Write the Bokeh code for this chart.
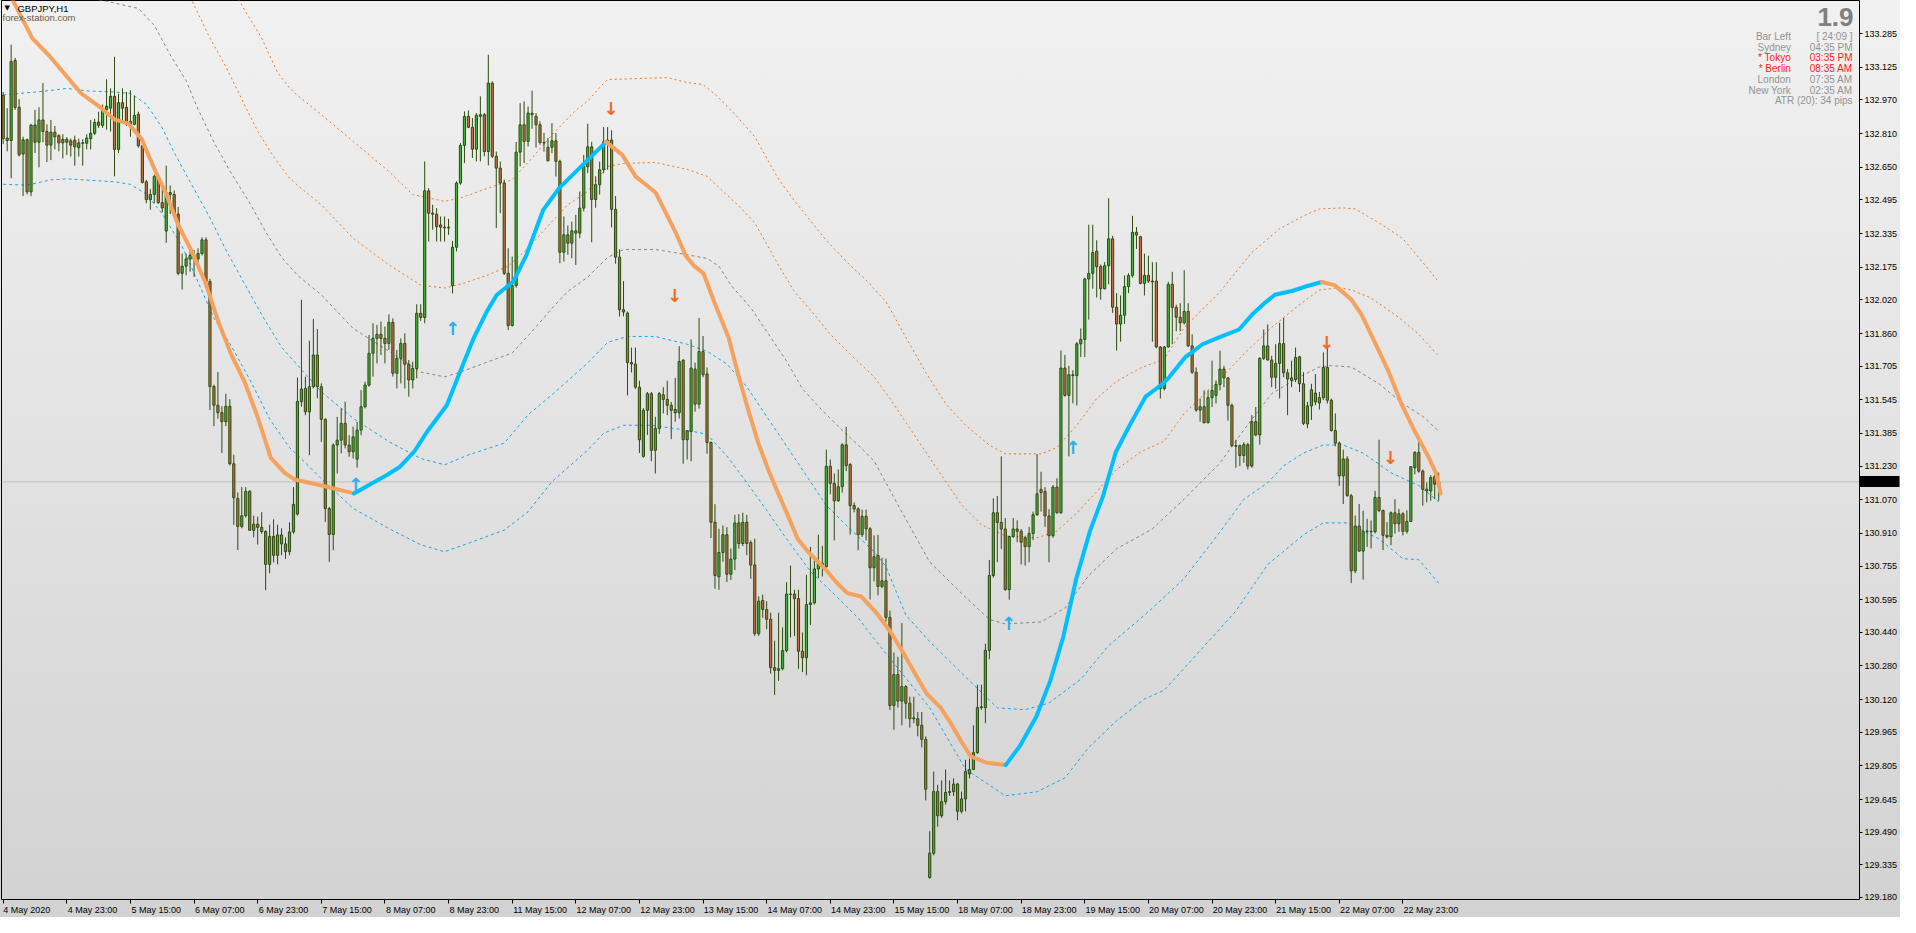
from bokeh.plotting import figure
from bokeh.models import Range1d, FixedTicker, NumeralTickFormatter, Span
from bokeh.core.properties import value
from bokeh.embed import file_html
from bokeh.resources import INLINE
import numpy as np

# ---------------- data (GBPJPY H1, bar index 0 = 4 May 07:00) ----------------
opens = [
 132.991,132.789,132.777,133.158,132.935,132.713,132.781,132.533,132.851,132.769,
 132.875,132.820,132.755,132.817,132.800,132.783,132.769,132.776,132.779,132.743,
 132.766,132.764,132.786,132.812,132.865,132.849,132.923,132.931,132.987,132.735,
 132.957,132.935,132.868,132.854,132.902,132.752,132.581,132.496,132.521,132.607,
 132.482,132.347,132.530,132.521,132.428,132.146,132.180,132.214,132.231,132.214,
 132.240,132.305,132.107,131.608,131.519,131.484,131.441,131.514,131.241,131.076,
 130.943,130.994,131.110,130.925,130.954,130.939,130.919,130.763,130.896,130.806,
 130.903,130.860,130.823,130.917,131.002,131.536,131.599,131.488,131.607,131.758,
 131.607,131.452,131.028,130.905,131.330,131.353,131.433,131.330,131.298,131.263,
 131.401,131.512,131.615,131.766,131.837,131.856,131.837,131.813,131.913,131.671,
 131.742,131.813,131.714,131.639,131.694,131.956,131.936,132.538,132.432,132.427,
 132.376,132.365,132.362,132.088,132.270,132.575,132.754,132.892,132.840,132.736,
 132.892,132.900,132.725,133.050,132.702,132.646,132.575,132.146,131.898,132.088,
 132.722,132.852,132.773,132.900,132.892,132.852,132.768,132.745,132.745,132.776,
 132.678,132.246,132.329,132.289,132.348,132.337,132.456,132.653,132.747,132.497,
 132.567,132.638,132.771,132.779,132.450,132.223,131.973,131.957,131.722,131.715,
 131.605,131.276,131.495,131.574,131.305,131.409,131.569,131.547,131.519,131.499,
 131.483,131.733,131.355,131.394,131.691,131.524,131.774,131.668,131.342,130.963,
 130.704,130.819,130.904,130.716,130.788,130.960,130.862,130.963,130.866,130.760,
 130.434,130.591,130.548,130.502,130.272,130.259,130.267,130.353,130.622,130.622,
 130.600,130.350,130.319,130.572,130.580,130.741,130.768,130.752,131.229,131.148,
 131.065,131.132,131.331,131.237,131.042,131.026,130.904,130.991,130.932,130.747,
 130.805,130.658,130.685,130.511,130.092,130.239,130.113,130.182,130.103,130.029,
 130.029,129.998,129.931,129.275,129.390,129.683,129.568,129.635,129.679,129.683,
 129.719,129.589,129.648,129.767,129.788,129.868,130.082,130.082,130.354,130.710,
 131.008,130.962,130.931,130.643,130.895,130.931,130.920,130.889,130.847,130.910,
 130.999,131.119,131.109,130.993,130.899,131.130,131.008,131.696,131.566,131.664,
 131.660,131.811,131.832,132.119,132.146,132.251,132.178,132.073,132.182,132.310,
 131.985,131.905,131.947,132.083,132.136,132.341,132.320,132.098,132.136,132.109,
 132.109,131.796,131.598,131.796,132.094,131.984,131.937,131.911,131.965,131.801,
 131.676,131.496,131.512,131.436,131.555,131.566,131.618,131.691,131.649,131.519,
 131.327,131.327,131.280,131.332,131.230,131.441,131.378,131.742,131.801,131.734,
 131.652,131.718,131.812,131.673,131.649,131.641,131.749,131.621,131.430,131.516,
 131.577,131.530,131.555,131.699,131.543,131.399,131.339,131.183,131.264,131.089,
 130.732,130.945,130.826,130.920,130.920,130.918,131.081,131.019,130.901,130.894,
 131.008,130.956,131.003,130.920,130.967,131.222,131.295,131.206,131.120,131.112,
 131.180,131.136]
highs = [
 133.008,132.931,133.233,133.170,132.974,132.795,132.786,132.854,132.923,132.935,
 133.051,132.854,132.875,132.846,132.807,132.807,132.793,132.786,132.800,132.786,
 132.783,132.807,132.875,132.880,132.914,132.948,133.068,133.025,133.175,132.999,
 133.025,133.008,133.016,132.991,132.914,132.760,132.590,132.547,132.615,132.615,
 132.561,132.658,132.564,132.540,132.462,132.240,132.240,132.257,132.257,132.265,
 132.317,132.317,132.120,131.617,131.677,131.514,131.574,131.548,131.284,131.105,
 131.130,131.130,131.115,130.994,130.990,131.011,130.925,130.951,130.977,130.951,
 130.934,130.891,130.963,131.130,131.651,132.020,131.655,131.826,131.929,131.881,
 131.623,131.457,131.036,131.338,131.464,131.504,131.536,131.377,131.417,131.440,
 131.591,131.631,131.853,131.909,131.901,131.917,131.893,131.951,131.932,131.782,
 131.837,131.861,131.734,131.726,131.999,131.999,132.678,132.551,132.472,132.456,
 132.416,132.416,132.405,132.300,132.583,132.765,132.916,132.920,132.884,132.908,
 132.987,132.908,133.185,133.058,132.725,132.678,132.591,132.265,132.226,132.770,
 132.955,132.963,132.939,133.014,132.908,132.868,132.813,132.789,132.860,132.813,
 132.686,132.416,132.373,132.392,132.424,132.535,132.709,132.857,132.771,132.607,
 132.677,132.841,132.841,132.826,132.513,132.260,132.109,131.965,131.793,131.793,
 131.636,131.505,131.582,131.582,131.464,131.582,131.605,131.636,131.535,131.649,
 131.800,131.738,131.401,131.832,131.722,131.934,131.848,131.699,131.347,131.049,
 130.932,130.948,130.940,130.838,130.998,131.002,131.008,130.998,130.877,130.885,
 130.611,130.619,130.588,130.533,130.400,130.533,130.463,130.678,130.757,130.642,
 130.642,130.439,130.713,130.846,130.783,130.904,130.851,131.308,131.261,131.195,
 131.214,131.339,131.417,131.245,131.057,131.034,131.023,131.023,130.940,130.901,
 130.903,130.794,130.790,130.543,130.344,130.323,130.484,130.190,130.134,130.134,
 130.061,130.061,129.945,129.495,129.778,129.715,129.736,129.788,129.736,129.746,
 129.725,129.683,129.834,129.840,129.998,130.191,130.191,130.386,130.784,131.077,
 131.088,131.276,130.983,130.899,130.983,130.972,130.931,130.899,130.941,131.014,
 131.287,131.203,131.130,131.025,131.140,131.172,131.779,131.758,131.706,131.685,
 131.820,131.884,132.125,132.377,132.377,132.303,132.188,132.199,132.503,132.324,
 132.052,132.041,132.136,132.146,132.419,132.366,132.324,132.240,132.230,132.199,
 132.199,131.800,131.801,132.106,132.153,131.997,132.004,132.161,132.004,131.856,
 131.699,131.551,131.590,131.590,131.731,131.637,131.778,131.707,131.652,131.527,
 131.355,131.332,131.343,131.340,131.472,131.511,131.747,131.879,131.903,131.754,
 131.809,131.911,131.934,131.691,131.731,131.793,131.754,131.676,131.535,131.621,
 131.668,131.582,131.770,131.793,131.551,131.480,131.347,131.308,131.277,131.097,
 130.995,131.050,131.018,130.979,130.971,131.112,131.355,131.023,130.964,131.014,
 131.073,131.026,131.011,131.019,131.230,131.300,131.347,131.214,131.152,131.186,
 131.191,131.199]
lows = [
 132.760,132.726,132.598,132.923,132.701,132.513,132.521,132.513,132.718,132.650,
 132.769,132.675,132.684,132.735,132.726,132.692,132.709,132.701,132.658,132.701,
 132.658,132.735,132.735,132.803,132.837,132.837,132.829,132.820,132.607,132.718,
 132.871,132.846,132.795,132.850,132.743,132.573,132.479,132.448,132.479,132.475,
 132.436,132.291,132.428,132.410,132.137,132.069,132.137,132.154,132.129,132.172,
 132.231,132.095,131.497,131.420,131.455,131.292,131.420,131.233,130.951,130.831,
 130.934,130.985,130.922,130.891,130.857,130.908,130.640,130.721,130.772,130.763,
 130.806,130.789,130.806,130.908,130.994,131.512,131.472,131.282,131.599,131.552,
 131.345,130.965,130.775,130.830,131.195,131.290,131.314,131.274,131.266,131.222,
 131.377,131.504,131.607,131.655,131.718,131.758,131.718,131.782,131.655,131.599,
 131.623,131.599,131.560,131.599,131.647,131.920,131.909,132.297,132.353,132.297,
 132.297,132.297,132.329,132.051,132.250,132.567,132.670,132.836,132.694,132.678,
 132.678,132.702,132.659,132.694,132.361,132.432,132.138,131.877,131.893,132.078,
 132.654,132.670,132.749,132.833,132.744,132.757,132.725,132.678,132.717,132.606,
 132.194,132.202,132.234,132.218,132.186,132.313,132.440,132.622,132.294,132.458,
 132.520,132.622,132.638,132.364,132.192,131.941,131.941,131.566,131.675,131.597,
 131.292,131.270,131.378,131.253,131.195,131.383,131.480,131.472,131.358,131.441,
 131.456,131.242,131.261,131.253,131.488,131.503,131.652,131.289,130.888,130.647,
 130.642,130.776,130.679,130.689,130.736,130.838,130.850,130.807,130.694,130.423,
 130.423,130.509,130.455,130.243,130.142,130.209,130.259,130.345,130.416,130.423,
 130.267,130.251,130.236,130.475,130.572,130.697,130.705,130.747,131.096,130.877,
 131.060,131.104,131.206,130.904,131.010,130.830,130.893,130.877,130.596,130.682,
 130.616,130.650,130.490,130.071,129.977,130.082,129.998,130.029,129.987,130.008,
 129.946,129.893,129.641,129.268,129.380,129.516,129.558,129.621,129.662,129.662,
 129.547,129.579,129.589,129.746,129.788,129.862,130.071,130.008,130.312,130.700,
 130.773,130.836,130.637,130.595,130.889,130.868,130.763,130.757,130.773,130.878,
 130.993,131.014,130.941,130.773,130.889,131.004,131.004,131.560,131.276,131.528,
 131.518,131.748,131.748,131.926,132.073,132.031,132.021,132.069,132.094,131.958,
 131.779,131.821,131.905,132.052,132.125,132.262,132.094,132.041,132.100,131.821,
 131.790,131.551,131.590,131.793,131.809,131.871,131.871,131.903,131.796,131.668,
 131.488,131.441,131.433,131.433,131.511,131.527,131.590,131.605,131.446,131.321,
 131.222,131.230,131.245,131.214,131.222,131.371,131.332,131.734,131.731,131.605,
 131.598,131.551,131.652,131.472,131.605,131.629,131.582,131.425,131.410,131.449,
 131.519,131.499,131.543,131.527,131.394,131.324,131.136,131.050,131.085,130.674,
 130.721,130.823,130.690,130.846,130.839,130.910,131.011,130.831,130.886,130.854,
 130.909,130.917,130.901,130.909,130.964,131.191,131.198,131.042,131.058,131.065,
 131.073,131.065]
closes = [
 132.786,132.777,133.153,132.935,132.709,132.781,132.533,132.851,132.769,132.875,
 132.820,132.755,132.817,132.795,132.766,132.766,132.783,132.755,132.747,132.766,
 132.764,132.789,132.812,132.863,132.849,132.923,132.940,132.987,132.735,132.957,
 132.931,132.868,132.854,132.897,132.752,132.578,132.496,132.521,132.607,132.482,
 132.457,132.530,132.521,132.428,132.146,132.180,132.214,132.231,132.214,132.240,
 132.305,132.107,131.608,131.519,131.484,131.441,131.514,131.241,131.079,130.943,
 130.994,131.110,130.925,130.954,130.939,130.919,130.763,130.896,130.806,130.903,
 130.860,130.823,130.917,131.048,131.537,131.596,131.488,131.607,131.758,131.607,
 131.452,131.028,130.905,131.330,131.353,131.433,131.330,131.298,131.369,131.401,
 131.512,131.615,131.766,131.837,131.856,131.837,131.813,131.913,131.671,131.742,
 131.813,131.714,131.639,131.694,131.956,131.936,132.538,132.432,132.427,132.368,
 132.365,132.362,132.365,132.270,132.575,132.754,132.892,132.840,132.736,132.897,
 132.900,132.725,133.050,132.702,132.646,132.575,132.146,131.898,132.088,132.722,
 132.852,132.773,132.908,132.907,132.852,132.768,132.765,132.681,132.776,132.678,
 132.246,132.329,132.289,132.348,132.337,132.456,132.654,132.747,132.497,132.567,
 132.638,132.771,132.779,132.450,132.223,131.973,131.962,131.722,131.715,131.605,
 131.355,131.495,131.574,131.305,131.409,131.574,131.547,131.519,131.495,131.483,
 131.727,131.355,131.398,131.696,131.524,131.774,131.664,131.342,130.963,130.710,
 130.819,130.904,130.716,130.788,130.960,130.862,130.963,130.862,130.760,130.434,
 130.588,130.548,130.502,130.272,130.259,130.267,130.353,130.622,130.620,130.600,
 130.350,130.319,130.572,130.580,130.741,130.768,130.760,131.229,131.148,131.065,
 131.132,131.331,131.232,131.042,131.026,130.904,130.991,130.932,130.747,130.799,
 130.658,130.685,130.511,130.092,130.239,130.113,130.182,130.103,130.029,130.033,
 129.998,129.931,129.694,129.390,129.683,129.568,129.635,129.679,129.683,129.719,
 129.589,129.648,129.778,129.788,129.868,130.082,130.086,130.354,130.710,131.008,
 130.962,130.931,130.643,130.895,130.931,130.920,130.868,130.847,130.910,130.999,
 131.098,131.104,130.993,130.899,131.130,131.008,131.696,131.566,131.664,131.660,
 131.811,131.832,132.119,132.146,132.245,132.178,132.073,132.182,132.310,131.985,
 131.905,131.947,132.083,132.136,132.341,132.328,132.098,132.136,132.109,132.105,
 131.796,131.598,131.796,132.094,131.984,131.937,131.911,131.965,131.801,131.676,
 131.496,131.512,131.436,131.555,131.590,131.618,131.691,131.649,131.519,131.327,
 131.324,131.280,131.332,131.230,131.441,131.378,131.742,131.801,131.734,131.652,
 131.718,131.812,131.673,131.644,131.637,131.746,131.621,131.433,131.516,131.593,
 131.535,131.555,131.699,131.543,131.399,131.339,131.183,131.264,131.089,130.732,
 130.945,130.826,130.920,130.921,130.918,131.081,131.019,130.901,130.894,131.008,
 130.956,131.003,130.920,130.967,131.227,131.295,131.206,131.120,131.112,131.175,
 131.144,131.155]

# thick trend line (state: "dn" orange, "up" blue)
trend_x = [0, 2.2, 7.3, 11.6, 19.6, 24.1, 27.8, 31.6, 34.8, 38.3, 40.8, 44, 47.3, 50.8, 54.1, 57.3, 60.8,
           64.1, 67.3, 70.8, 73.3, 79.8,
           88.2, 96.6, 99.8, 103.3, 106.6, 111.6, 114.8, 118.3, 121.6, 124.1, 128.3, 131.6, 135.8, 139.8, 146.6,
           151.6, 155.7, 159, 161.6, 164.1, 166.6, 169.1, 171.6, 173.6, 176.1, 179.1, 182.4, 184.8, 187.4, 189.9,
           192.4, 194.8, 197.3, 199.8, 202.4, 206.6, 209.8, 212.3, 215.8, 219.5, 223.3, 226.6, 229.8, 232.3,
           235.8, 238.3, 240.8, 243.3, 247.3,
           252.1, 255.8, 259.8, 263.3, 266.6, 269.8, 273.3, 276.6, 279.8, 283.3, 287.3, 291.6, 293.3, 297.3,
           301.6, 305.8, 310.8, 314.1, 317.3, 319.8, 324.1, 327.3,
           331.6, 334.8, 339.1, 341.6, 344.8, 348.3, 351.6, 354.8, 358.3, 360.3, 361.5]
trend_y = [133.52, 133.452, 133.264, 133.180, 133.001, 132.940, 132.879, 132.856, 132.785, 132.630, 132.532,
           132.377, 132.255, 132.105, 131.917, 131.762, 131.626, 131.457, 131.269, 131.198, 131.166, 131.139,
           131.100, 131.189, 131.227, 131.297, 131.393, 131.520, 131.673, 131.837, 131.964, 132.043, 132.107,
           132.234, 132.447, 132.551, 132.677,
           132.771, 132.709, 132.607, 132.568, 132.529, 132.435, 132.341, 132.231, 132.184, 132.146, 131.997,
           131.842, 131.668, 131.494, 131.339, 131.213, 131.105, 130.997, 130.884, 130.823, 130.743, 130.672,
           130.626, 130.610, 130.535, 130.438, 130.335, 130.228, 130.147, 130.081, 130.008, 129.926, 129.851,
           129.820,
           129.809, 129.903, 130.039, 130.208, 130.419, 130.691, 130.921, 131.088, 131.297, 131.424, 131.560,
           131.621, 131.654, 131.748, 131.809, 131.842, 131.879, 131.950, 132.006, 132.044, 132.062, 132.082,
           132.105, 132.090, 132.020, 131.950, 131.824, 131.684, 131.527, 131.402, 131.278, 131.198, 131.100]
trend_state = ["dn"] * 22 + ["up"] * 15 + ["dn"] * 34 + ["up"] * 22 + ["dn"] * 11

# channel lines
oo_x = [44, 49, 54, 59, 65, 69, 72, 74, 80, 88, 97, 103, 111, 115, 122, 128, 133, 138, 144, 147,
        150, 152, 167, 172, 176, 179, 184, 189, 195, 199, 207, 213, 217, 222, 227, 232, 237, 242, 248, 252,
        261, 265, 270, 275, 280, 286, 292, 297, 306, 314, 321, 327, 331, 337, 340, 346, 352, 357, 361]
oo_y = [133.968, 133.781, 133.616, 133.452, 133.264, 133.100, 133.027, 132.992, 132.900, 132.773,
        132.630, 132.520, 132.488, 132.504, 132.551, 132.591, 132.694, 132.804, 132.921, 132.964,
        133.029, 133.067, 133.076, 133.053, 133.043, 132.997, 132.903, 132.795, 132.593, 132.490,
        132.302, 132.184, 132.114, 132.011, 131.842, 131.675, 131.527, 131.424, 131.330, 131.288,
        131.288, 131.318, 131.424, 131.551, 131.633, 131.696, 131.738, 131.889, 132.058, 132.245,
        132.358, 132.419, 132.452, 132.457, 132.452, 132.386, 132.311, 132.198, 132.105]
oi_x = [37, 44, 47.3, 52, 56, 60, 64, 68, 72, 74, 80, 88, 97, 105, 111, 116, 122, 127, 132, 138,
        142, 147, 152, 156, 164, 172, 177, 181, 185, 189, 195, 199, 204, 208, 213, 219, 223, 229, 235, 241,
        246, 252, 260, 265, 270, 275, 280, 286, 292, 297, 306, 312, 319, 325, 331, 336, 339, 344, 351, 356, 361]
oi_y = [133.814, 133.555, 133.447, 133.264, 133.128, 132.973, 132.821, 132.701, 132.598, 132.565,
        132.472, 132.313, 132.186, 132.090, 132.076, 132.100, 132.139, 132.180, 132.266, 132.392,
        132.472, 132.536, 132.654, 132.668, 132.673, 132.640, 132.607, 132.536, 132.466, 132.386,
        132.184, 132.058, 131.950, 131.856, 131.762, 131.654, 131.551, 131.381, 131.213, 131.046,
        130.951, 130.898, 130.889, 130.921, 131.006, 131.109, 131.213, 131.297, 131.349, 131.480,
        131.644, 131.762, 131.889, 131.982, 132.067, 132.078, 132.067, 132.029, 131.936, 131.856, 131.752]
mid_x = [0, 9, 19, 26, 34, 38, 42, 46, 49, 53, 57, 62, 66, 70, 74, 80, 88, 97, 105, 111,
         115, 122, 128, 133, 138, 142, 147, 152, 156, 164, 170, 177, 180, 183, 188, 192, 197, 201, 206, 211,
         215, 219, 225, 233, 242, 248, 252, 261, 267, 273, 280, 287, 289, 297, 306, 312, 319, 326, 331, 334,
         339, 346, 352, 357, 361]
mid_y = [133.470, 133.466, 133.461, 133.439, 133.405, 133.325, 133.184, 133.062, 132.926, 132.769,
         132.633, 132.480, 132.344, 132.222, 132.137, 132.044, 131.884, 131.776, 131.677, 131.654,
         131.677, 131.726, 131.767, 131.870, 131.980, 132.060, 132.128, 132.222, 132.259, 132.259,
         132.241, 132.217, 132.180, 132.090, 131.982, 131.870, 131.729, 131.597, 131.494, 131.400,
         131.330, 131.255, 131.046, 130.774, 130.607, 130.501, 130.480, 130.489, 130.555, 130.710,
         130.837, 130.910, 130.932, 131.073, 131.245, 131.402, 131.574, 131.654, 131.701, 131.707,
         131.701, 131.621, 131.527, 131.466, 131.396]
bi_x = [0, 10, 16, 21, 28, 32, 36, 40, 43, 47, 52, 56, 61, 66, 70, 74, 80, 88, 97, 105,
        111, 117, 126, 132, 138, 147, 152, 157, 164, 172, 177, 182, 187, 191, 196, 202, 207, 213, 219, 222,
        227, 233, 242, 250, 257, 263, 271, 278, 285, 289, 297, 306, 312, 318, 322, 327, 332, 337, 342, 349,
        356, 361]
bi_y = [132.994, 133.011, 133.025, 133.013, 133.008, 133.001, 132.950, 132.837, 132.720, 132.581,
        132.410, 132.257, 132.086, 131.917, 131.795, 131.710, 131.583, 131.457, 131.346, 131.266,
        131.236, 131.283, 131.339, 131.473, 131.569, 131.720, 131.818, 131.846, 131.846, 131.809,
        131.776, 131.715, 131.607, 131.494, 131.353, 131.184, 131.043, 130.931, 130.823, 130.752,
        130.522, 130.396, 130.228, 130.081, 130.072, 130.104, 130.217, 130.377, 130.489, 130.555,
        130.696, 130.917, 131.072, 131.151, 131.231, 131.292, 131.330, 131.330, 131.292, 131.198,
        131.137, 131.060]
bo_x = [0, 6, 12, 16, 28, 32, 36, 40, 45, 49, 53, 57, 62, 67, 72, 74, 80, 88, 97, 105,
        111, 118, 126, 132, 138, 147, 151, 156, 163, 172, 177, 182, 187, 192, 197, 203, 209, 215, 219, 225,
        233, 242, 252, 260, 267, 273, 280, 287, 292, 310, 318, 327, 332, 338, 346, 352, 356, 361]
bo_y = [132.569, 132.565, 132.590, 132.595, 132.581, 132.569, 132.522, 132.429, 132.274, 132.105,
        131.933, 131.813, 131.642, 131.454, 131.318, 131.283, 131.170, 131.029, 130.933, 130.856,
        130.823, 130.870, 130.926, 131.013, 131.156, 131.306, 131.386, 131.424, 131.424, 131.400,
        131.381, 131.278, 131.151, 131.020, 130.884, 130.729, 130.621, 130.508, 130.410, 130.269,
        130.081, 129.790, 129.663, 129.682, 129.748, 129.893, 130.020, 130.123, 130.165, 130.541,
        130.762, 130.903, 130.960, 130.960, 130.884, 130.790, 130.785, 130.673]

# signal arrows
up_x = [88.6, 113.0, 252.8, 269.0]
up_y = [131.142, 131.884, 130.480, 131.316]
dn_x = [152.8, 168.8, 332.8, 348.8]
dn_y = [132.931, 132.039, 131.817, 131.269]

# axes
xtick_labels = ["4 May 2020", "4 May 23:00", "5 May 15:00", "6 May 07:00", "6 May 23:00", "7 May 15:00",
                "8 May 07:00", "8 May 23:00", "11 May 15:00", "12 May 07:00", "12 May 23:00", "13 May 15:00",
                "14 May 07:00", "14 May 23:00", "15 May 15:00", "18 May 07:00", "18 May 23:00",
                "19 May 15:00", "20 May 07:00", "20 May 23:00", "21 May 15:00", "22 May 07:00", "22 May 23:00"]
xtick_bars = [16 * k for k in range(len(xtick_labels))]
ytick_values = [133.285, 133.125, 132.970, 132.810, 132.650, 132.495, 132.335, 132.175, 132.020, 131.860,
                131.705, 131.545, 131.385, 131.230, 131.070, 130.910, 130.755, 130.595, 130.440, 130.280,
                130.120, 129.965, 129.805, 129.645, 129.490, 129.335, 129.180]

# info panel
symbol_text = "GBPJPY,H1"
site_text = "forex-station.com"
spread_text = "1.9"
info_names = ["Bar Left", "Sydney", "* Tokyo", "* Berlin", "London", "New York"]
info_times = ["[ 24:09 ]", "04:35 PM", "03:35 PM", "08:35 AM", "07:35 AM", "02:35 AM"]
info_red = [False, False, True, True, False, False]
atr_text = "ATR (20): 34 pips"

# ---------------- styling / layout ----------------
def X(px):
    return (px - 3.7) / 4.0

def Y(py):
    return 133.452 - 0.004695 * py

WICK = "#2C4B10"
BULL = "#40B236"
BEAR = "#C46C40"
TR_DN = "#F5A25E"
TR_UP = "#00BFFF"
OR_DOT = "#F07414"
GR_DOT = "#858585"
BL_DOT = "#10A8EC"
FONT = "Liberation Sans"
last_price = closes[-1]

TAG_LEN = 40      # length of the black price tag (minor tick) in px
LABEL_GAP = 5     # distance of the y labels from the frame edge in px

p = figure(width=1900, height=917,
           x_range=Range1d(X(2), X(1871)), y_range=Range1d(Y(912), Y(2)),
           y_axis_location="right", output_backend="svg", toolbar_location=None,
           min_border_left=1, min_border_top=0, min_border_right=36, min_border_bottom=12)
p.background_fill_alpha = 0
p.border_fill_alpha = 0
p.styles = {"background": "linear-gradient(180deg, #f1f1f1 0%, #e2e2e2 50%, #d2d2d2 100%)"}
p.outline_line_color = "black"
p.outline_line_width = 1
p.xgrid.visible = False
p.ygrid.visible = False

# y axis; the current price gets a black tag made from a long, thick minor tick
p.yaxis.ticker = FixedTicker(ticks=ytick_values + [last_price], minor_ticks=[last_price])
p.yaxis.formatter = NumeralTickFormatter(format="0.000")
p.yaxis.axis_line_color = None
p.yaxis.major_tick_line_color = "black"
p.yaxis.major_tick_in = 0
p.yaxis.major_tick_out = 3
p.yaxis.minor_tick_line_color = "black"
p.yaxis.minor_tick_line_width = 11
p.yaxis.minor_tick_in = 0
p.yaxis.minor_tick_out = TAG_LEN
p.yaxis.major_label_text_font = FONT
p.yaxis.major_label_text_font_size = "9px"
p.yaxis.major_label_text_color = "black"
p.yaxis.major_label_standoff = LABEL_GAP - TAG_LEN

# x axis: labels start at tick (left aligned look)
px_per_bar = 3.98
lab_pos = [round(b + (len(t) * 4.5 / 2 + 1) / px_per_bar, 3) for b, t in zip(xtick_bars, xtick_labels)]
p.xaxis.ticker = FixedTicker(ticks=lab_pos, minor_ticks=xtick_bars)
p.xaxis.major_label_overrides = {pos: t for pos, t in zip(lab_pos, xtick_labels)}
p.xaxis.axis_line_color = None
p.xaxis.major_tick_line_color = None
p.xaxis.major_tick_out = 0
p.xaxis.major_tick_in = 0
p.xaxis.minor_tick_line_color = "black"
p.xaxis.minor_tick_out = 4
p.xaxis.minor_tick_in = 0
p.xaxis.major_label_text_font = FONT
p.xaxis.major_label_text_font_size = "9px"
p.xaxis.major_label_text_color = "black"
p.xaxis.major_label_standoff = 1

# current price line
p.add_layout(Span(location=last_price, dimension="width", line_color="#BEBEBE", line_width=1, level="underlay"))

# channel lines
p.line(oo_x, oo_y, line_color=OR_DOT, line_width=1, line_dash="2 3")
p.line(oi_x, oi_y, line_color=OR_DOT, line_width=1, line_dash="2 3")
p.line(mid_x, mid_y, line_color=GR_DOT, line_width=1, line_dash="3 3")
p.line(bi_x, bi_y, line_color=BL_DOT, line_width=1, line_dash="3 3")
p.line(bo_x, bo_y, line_color=BL_DOT, line_width=1, line_dash="3 3")

# candles
o = np.array(opens); h = np.array(highs); l = np.array(lows); c = np.array(closes)
idx = np.arange(len(c))
top = np.maximum(o, c)
bot = np.minimum(o, c)
fills = [BULL if cc >= oo else BEAR for oo, cc in zip(opens, closes)]
p.segment(x0=idx, y0=np.minimum(l, bot), x1=idx, y1=np.maximum(h, top), line_color=WICK, line_width=1)
p.vbar(x=idx, width=0.55, top=top, bottom=bot, fill_color=fills, line_color=WICK, line_width=1)

# thick trend line split by state
groups = []
cur = {"state": trend_state[0], "x": [], "y": []}
for xx, yy, st in zip(trend_x, trend_y, trend_state):
    if st != cur["state"]:
        cur["x"].append(xx); cur["y"].append(yy)
        groups.append(cur)
        cur = {"state": st, "x": [], "y": []}
    cur["x"].append(xx); cur["y"].append(yy)
groups.append(cur)
for g in groups:
    p.line(g["x"], g["y"], line_color=TR_UP if g["state"] == "up" else TR_DN,
           line_width=4, line_join="round", line_cap="round")

# arrows
p.text(x=up_x, y=up_y, text=["\u2191"] * len(up_x), text_color="#2AAFF0", text_align="center",
       text_baseline="middle", text_font=value("DejaVu Sans"), text_font_size="18px", text_font_style="bold")
p.text(x=dn_x, y=dn_y, text=["\u2193"] * len(dn_x), text_color="#EE6C1A", text_align="center",
       text_baseline="middle", text_font=value("DejaVu Sans"), text_font_size="18px", text_font_style="bold")

# top-left texts
p.text(x=[X(5)], y=[Y(10)], text=["\u25bc"], text_color="black", text_align="left", text_baseline="middle",
       text_font=value("DejaVu Sans"), text_font_size="7px")
p.text(x=[X(18)], y=[Y(10.5)], text=[symbol_text], text_color="black", text_align="left",
       text_baseline="middle", text_font=value(FONT), text_font_size="9.5px")
p.text(x=[X(3)], y=[Y(19.5)], text=[site_text], text_color="#6A5A48", text_align="left",
       text_baseline="middle", text_font=value(FONT), text_font_size="9.5px")

# info panel (top right)
p.text(x=[X(1865)], y=[Y(19)], text=[spread_text], text_color="#808080", text_align="right",
       text_baseline="middle", text_font=value(FONT), text_font_size="26px", text_font_style="bold")
row_y = [Y(38.3 + 10.9 * k) for k in range(len(info_names))]
row_col = ["#FF2020" if r else "#939393" for r in info_red]
p.text(x=[X(1802)] * len(info_names), y=row_y, text=info_names, text_color=row_col, text_align="right",
       text_baseline="middle", text_font=value(FONT), text_font_size="10px")
p.text(x=[X(1864)] * len(info_times), y=row_y, text=info_times, text_color=row_col, text_align="right",
       text_baseline="middle", text_font=value(FONT), text_font_size="10px")
p.text(x=[X(1864)], y=[Y(38.3 + 10.9 * 6)], text=[atr_text], text_color="#939393", text_align="right",
       text_baseline="middle", text_font=value(FONT), text_font_size="10px")

open("out.html", "w").write(file_html(p, INLINE))
